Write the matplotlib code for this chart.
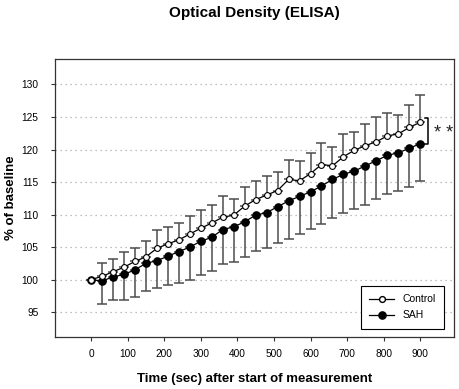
import numpy as np
import matplotlib
matplotlib.use("Agg")
import matplotlib.pyplot as plt
from matplotlib.lines import Line2D

plt.rcParams["font.family"] = ["Liberation Sans", "DejaVu Sans"]

# time points (sec) and % of baseline values
time_sec = np.arange(0, 901, 30)
control_mean = [100.0, 100.5, 101.2, 101.9, 102.8, 103.5, 104.8, 105.5, 106.1, 107.0,
                107.9, 108.7, 109.6, 109.9, 111.3, 112.3, 113.0, 113.7, 115.4, 115.2,
                116.3, 117.7, 117.5, 118.9, 119.9, 120.6, 121.2, 122.1, 122.4, 123.4, 124.2]
control_sd = [0.0, 2.1, 1.9, 2.3, 2.0, 2.4, 2.9, 2.6, 2.6, 2.8,
              2.8, 2.7, 3.3, 2.5, 2.9, 2.9, 3.0, 2.9, 3.0, 3.1,
              3.1, 3.3, 2.9, 3.5, 2.8, 3.4, 3.8, 3.5, 2.9, 3.5, 4.2]
sah_mean = [100.0, 99.8, 100.4, 100.8, 101.5, 102.5, 102.9, 103.6, 104.3, 105.0,
            105.9, 106.5, 107.7, 108.1, 108.9, 109.9, 110.3, 111.2, 112.1, 112.8,
            113.5, 114.4, 115.4, 116.2, 116.7, 117.5, 118.3, 119.1, 119.5, 120.2, 120.9]
sah_sd = [0.0, 3.6, 3.5, 3.9, 4.1, 4.2, 4.2, 4.5, 4.8, 5.1,
          5.2, 5.2, 5.3, 5.4, 5.4, 5.5, 5.4, 5.6, 5.8, 5.8,
          5.7, 5.9, 5.9, 6.0, 5.9, 6.0, 5.9, 6.0, 5.9, 5.9, 5.7]
xticks = list(range(0, 901, 100))
yticks = list(range(95, 131, 5))

control_mean = np.array(control_mean)
control_sd = np.array(control_sd)
sah_mean = np.array(sah_mean)
sah_sd = np.array(sah_sd)
zeros = np.zeros_like(control_sd)

fig = plt.figure(figsize=(4.59, 3.89), dpi=100)
ax = fig.add_axes([0.12, 0.134, 0.869, 0.714])

for y in yticks:
    ax.axhline(y, color="#aaaaaa", lw=0.9, ls=(0, (1, 3)), zorder=0)

# one-sided error bars: control upward, SAH downward
ax.errorbar(time_sec, control_mean, yerr=[zeros, control_sd], fmt="none",
            ecolor="#4d4d4d", elinewidth=1.1, capsize=3.5, capthick=1.1, zorder=2)
ax.errorbar(time_sec, sah_mean, yerr=[sah_sd, zeros], fmt="none",
            ecolor="#4d4d4d", elinewidth=1.1, capsize=3.5, capthick=1.1, zorder=2)

ax.plot(time_sec, control_mean, color="black", lw=0.9, marker="o", ms=4.2,
        mfc="white", mec="black", mew=0.8, zorder=4)
ax.plot(time_sec, sah_mean, color="black", lw=0.9, marker="o", ms=5.2,
        mfc="black", mec="black", zorder=3)

ax.set_xlim(-98, 992)
ax.set_ylim(91.2, 133.9)
ax.set_xticks(xticks)
ax.set_yticks(yticks)
ax.tick_params(labelsize=7.3, length=3, width=0.8, color="#333333")
ax.tick_params(axis="x", pad=6)
ax.tick_params(axis="y", pad=9)
for s in ax.spines.values():
    s.set_linewidth(0.9)
    s.set_color("#333333")

# significance bracket
ax.plot([913, 921, 921, 913], [124.8, 124.8, 120.9, 120.9], color="black",
        lw=1.1, clip_on=False)
ax.text(963, 122.4, "* *", ha="center", va="center", fontsize=13,
        color="#222222", clip_on=False)

ax.set_title("Optical Density (ELISA)", fontsize=11, fontweight="bold", pad=30)
ax.set_xlabel("Time (sec) after start of measurement", fontsize=9.5,
              fontweight="bold", labelpad=10)
ax.set_ylabel("% of baseline", fontsize=9.5, fontweight="bold", labelpad=3)

handles = [Line2D([], [], color="black", lw=0.9, marker="o", ms=4.2, mfc="white", mec="black"),
           Line2D([], [], color="black", lw=0.9, marker="o", ms=5.2, mfc="black")]
leg = ax.legend(handles, ["Control", "SAH"], loc="lower right", fontsize=7.5,
                fancybox=False, edgecolor="black", framealpha=1, borderpad=0.8,
                labelspacing=0.6, handlelength=2.4, borderaxespad=0,
                bbox_to_anchor=(0.975, 0.029))
leg.get_frame().set_linewidth(0.8)

fig.savefig("out.png", dpi=100)
